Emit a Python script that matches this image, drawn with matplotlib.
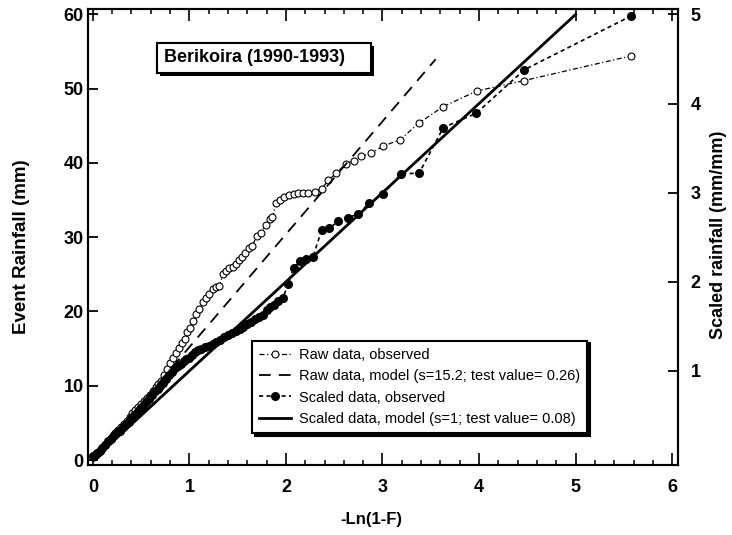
import matplotlib
matplotlib.use("Agg")
import matplotlib.pyplot as plt
import matplotlib.patheffects as pe
from matplotlib.patches import Rectangle
import numpy as np

plt.rcParams['font.family'] = ['Liberation Sans', 'DejaVu Sans']

# 原始数据 (mm)
raw_x = [0.01, 0.03, 0.05, 0.08, 0.11, 0.14, 0.17, 0.20, 0.23, 0.26, 0.29, 0.32,
         0.35, 0.38, 0.41, 0.44, 0.47, 0.50, 0.53, 0.56, 0.59, 0.62, 0.65, 0.68,
         0.71, 0.74, 0.77, 0.80, 0.83, 0.86, 0.89, 0.92, 0.95, 0.98, 1.01, 1.04,
         1.07, 1.10, 1.14, 1.17, 1.20, 1.24, 1.28, 1.31, 1.35, 1.38, 1.41, 1.45,
         1.48, 1.51, 1.55, 1.58, 1.62, 1.65, 1.70, 1.74, 1.79, 1.83, 1.86, 1.90,
         1.94, 1.98, 2.03, 2.08, 2.13, 2.18, 2.23, 2.30, 2.37, 2.44, 2.52, 2.62,
         2.70, 2.78, 2.88, 3.01, 3.18, 3.38, 3.63, 3.98, 4.47, 5.57]
raw_y = [0.4, 0.7, 1.0, 1.3, 1.7, 2.1, 2.6, 3.1, 3.6, 4.0, 4.4, 4.8,
         5.3, 5.8, 6.3, 6.7, 7.1, 7.6, 8.0, 8.4, 8.8, 9.3, 9.8, 10.2,
         10.6, 11.5, 12.2, 13.0, 13.7, 14.4, 15.1, 15.7, 16.3, 17.2, 17.8, 18.7,
         19.6, 20.3, 21.3, 21.8, 22.3, 23.0, 23.3, 23.5, 25.0, 25.4, 25.9, 26.0,
         26.4, 26.9, 27.4, 27.9, 28.5, 28.8, 30.2, 30.6, 31.6, 32.5, 32.7, 34.6,
         35.0, 35.4, 35.7, 35.8, 35.9, 36.0, 36.0, 36.1, 36.5, 37.7, 38.6, 39.9,
         40.3, 40.9, 41.3, 42.3, 43.1, 45.4, 47.6, 49.7, 51.1, 54.4]

# 标度化数据 (mm/mm)
sc_x = [0.00, 0.02, 0.04, 0.07, 0.10, 0.13, 0.16, 0.19, 0.22, 0.25, 0.28, 0.31,
        0.34, 0.37, 0.40, 0.43, 0.46, 0.49, 0.52, 0.55, 0.58, 0.61, 0.64, 0.67,
        0.70, 0.73, 0.76, 0.79, 0.82, 0.85, 0.88, 0.91, 0.94, 0.97, 1.00, 1.03,
        1.06, 1.09, 1.12, 1.16, 1.20, 1.24, 1.28, 1.32, 1.36, 1.40, 1.44, 1.48,
        1.52, 1.56, 1.60, 1.64, 1.68, 1.72, 1.76, 1.80, 1.84, 1.88, 1.92, 1.97,
        2.02, 2.08, 2.15, 2.21, 2.28, 2.37, 2.45, 2.54, 2.64, 2.75, 2.86, 3.01,
        3.19, 3.38, 3.63, 3.97, 4.47, 5.57]
sc_y = [0.04, 0.06, 0.08, 0.10, 0.13, 0.17, 0.21, 0.24, 0.28, 0.31, 0.33, 0.37,
        0.40, 0.43, 0.47, 0.50, 0.53, 0.57, 0.61, 0.65, 0.69, 0.73, 0.77, 0.80,
        0.83, 0.87, 0.91, 0.95, 0.99, 1.03, 1.05, 1.08, 1.11, 1.13, 1.15, 1.18,
        1.21, 1.23, 1.25, 1.27, 1.28, 1.30, 1.33, 1.35, 1.38, 1.40, 1.43, 1.45,
        1.47, 1.49, 1.53, 1.55, 1.58, 1.61, 1.63, 1.68, 1.72, 1.74, 1.78, 1.82,
        1.97, 2.16, 2.23, 2.26, 2.28, 2.58, 2.60, 2.68, 2.72, 2.76, 2.88, 2.99,
        3.21, 3.22, 3.73, 3.89, 4.38, 4.98]

# 模型直线
raw_s = 15.2
raw_model_x = np.array([0.15, 3.55])
sc_s = 1.0
sc_model_x = np.array([0.0, 5.0])
mean_rain = 12.0  # mm, 左右轴换算

fig = plt.figure(figsize=(7.32, 5.35), dpi=100)
ax = fig.add_axes([0.1202, 0.1308, 0.806, 0.852])
ax2 = ax.twinx()

ymin, ymax = -0.67, 60.7
ax.set_xlim(-0.05, 6.06)
ax.set_ylim(ymin, ymax)
ax2.set_ylim(ymin / mean_rain, ymax / mean_rain)

h1, = ax.plot(raw_x, raw_y, linestyle=(0, (4, 2, 1, 2)), color='k', lw=0.9,
              marker='o', ms=5, mfc='white', mec='k', mew=0.8,
              label='Raw data, observed')
h2, = ax.plot(raw_model_x, raw_s * raw_model_x, color='k', lw=1.3,
              dashes=(6.5, 4.5), label='Raw data, model (s=15.2; test value= 0.26)')
h3, = ax2.plot(sc_x, sc_y, linestyle=(0, (2.5, 2)), color='k', lw=1.2,
               marker='o', ms=5.5, mfc='k', mec='k',
               label='Scaled data, observed')
h4, = ax2.plot(sc_model_x, sc_s * sc_model_x, color='k', lw=2,
               label='Scaled data, model (s=1; test value= 0.08)')

ax.set_xticks(np.arange(0, 7, 1))
ax.set_xticks(np.arange(0, 6.01, 0.2), minor=True)
ax.set_yticks(np.arange(0, 61, 10))
ax2.set_yticks([1, 2, 3, 4, 5])

for a in (ax, ax2):
    for sp in a.spines.values():
        sp.set_linewidth(1.5)
ax.tick_params(axis='x', which='major', direction='in', length=8.5, width=1.2,
               top=True, pad=10)
ax.tick_params(axis='x', which='minor', direction='in', length=3.6, width=1.1, top=True)
ax.tick_params(axis='y', which='major', direction='in', length=7.5, width=1.3,
               right=False, pad=3)
ax2.tick_params(axis='y', direction='in', length=7.5, width=1.3, pad=9)
for lab in ax.get_xticklabels() + ax.get_yticklabels() + ax2.get_yticklabels():
    lab.set_fontsize(13)
    lab.set_fontweight('bold')

ax.set_xlabel('-Ln(1-F)', fontsize=12, fontweight='bold')
ax.set_ylabel('Event Rainfall (mm)', fontsize=13.5, fontweight='bold')
ax2.set_ylabel('Scaled rainfall (mm/mm)', fontsize=13, fontweight='bold')
ax.xaxis.set_label_coords(0.481, -0.103)
ax.yaxis.set_label_coords(-0.113, 0.478)
ax2.yaxis.set_label_coords(1.068, 0.504)
ax.yaxis.label.set_va('center')
ax2.yaxis.label.set_va('center')

# 标题框 (带阴影)
shadow = [pe.withSimplePatchShadow(offset=(2, -2), shadow_rgbFace='k', alpha=1), pe.Normal()]
box = Rectangle((0.117, 0.860), 0.363, 0.066, transform=ax.transAxes,
                fc='white', ec='k', lw=1.5, zorder=5, path_effects=shadow)
ax2.add_patch(box)
ax2.text(0.129, 0.894, 'Berikoira (1990-1993)', transform=ax.transAxes, fontsize=13,
         fontweight='bold', ha='left', va='center', zorder=6)

leg = ax2.legend(handles=[h1, h2, h3, h4], loc='lower left',
                 bbox_to_anchor=(0.278, 0.070), borderaxespad=0, fontsize=10.5,
                 fancybox=False, edgecolor='k', framealpha=1,
                 shadow={'color': 'k', 'alpha': 1}, handlelength=2.2,
                 labelspacing=0.5, borderpad=0.5, handletextpad=0.5)
leg.get_frame().set_linewidth(1.5)

fig.savefig('out.png', dpi=100)
